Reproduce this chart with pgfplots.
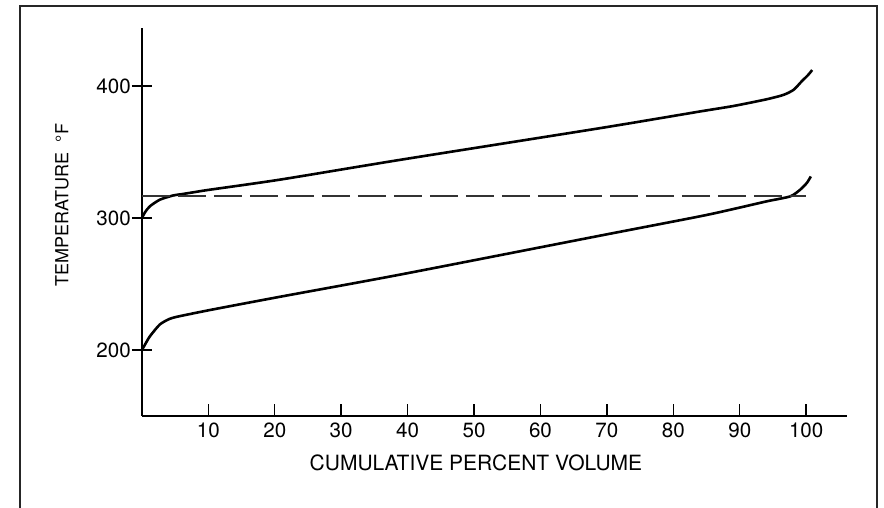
\documentclass[border=0pt]{standalone}
\usepackage{pgfplots}
\pgfplotsset{compat=1.18}
\usepackage{fontspec}
\setmainfont{TeX Gyre Heros}
\begin{document}
\begin{tikzpicture}
\useasboundingbox (0,0) rectangle (442pt,254pt);
\draw[line width=0.9pt,black!85] (10pt,0) -- (10pt,251pt) -- (438.5pt,251pt) -- (438.5pt,0);
\begin{axis}[
  at={(70.95pt,46pt)}, anchor=south west,
  scale only axis, width=352.4pt, height=193.85pt,
  xmin=0, xmax=106.1, ymin=150, ymax=443.6,
  axis lines=left, axis line style={-, line width=0.9pt},
  xtick={10,20,...,100}, ytick=\empty,
  extra y ticks={200,300,400},
  extra y tick style={ytick align=center, major tick length=10pt},
  xtick align=inside,
  major tick length=6pt,
  every tick/.style={black, line width=0.7pt},
  /pgf/number format/assume math mode=true,
  tick label style={font=\fontsize{10.3}{12}\selectfont},
  yticklabel style={xshift=3pt},
  xlabel={CUMULATIVE PERCENT VOLUME},
  ylabel={TEMPERATURE \ °F},
  x label style={at={(axis description cs:0.474,-0.12)}, anchor=center, font=\fontsize{10.5}{12}\selectfont},
  y label style={at={(axis description cs:-0.1135,0.544)}, anchor=center, rotate=0, font=\fontsize{9}{11}\selectfont},
  clip=false,
]
\addplot[black, line width=1.3pt, smooth, tension=0.4] coordinates {
 (0,300) (0.5,304.5) (1.2,308.8) (2.7,313.8) (4.7,317) (6,318) (8,319.6) (10,321.2)
 (20.8,329) (38.9,344) (69,368) (84,380.6) (89.1,384.8) (94.1,389.9) (96.6,393.2)
 (98.1,397) (99.3,403.3) (100.3,408.3) (100.9,412)
};
\addplot[black, line width=1.3pt, smooth, tension=0.4] coordinates {
 (0,200) (0.4,203.5) (1.2,210.3) (2.7,219.3) (4.2,223.6) (5.7,225.6) (10.7,230.7)
 (20.8,240.3) (38.9,257.1) (69,286.6) (84,301.2) (89.1,306.8) (94.1,312.6)
 (97.6,316.3) (99.1,321.4) (100.1,326.5) (100.7,331.4)
};
\addplot[black!80, line width=0.9pt, dash pattern=on 14pt off 4pt] coordinates {
 (0,316.5) (100,316.5)
};
\end{axis}
\end{tikzpicture}
\end{document}
